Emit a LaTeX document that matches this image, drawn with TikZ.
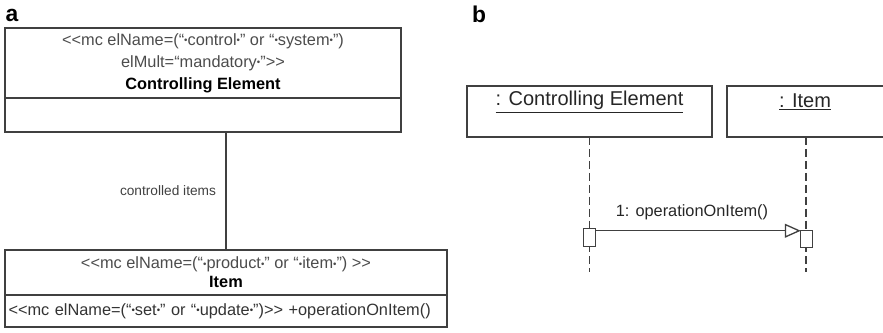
\documentclass[tikz,border=0pt]{standalone}
\usepackage{fontspec}
\setmainfont{Liberation Sans}
\usepackage{xcolor}
\usetikzlibrary{positioning,arrows.meta}
\newcommand{\bul}{{\fontsize{5.5}{5.5}\selectfont\raisebox{0.25ex}{•}}}

\begin{document}
\begin{tikzpicture}[x=0.02cm,y=-0.02cm,
      font=\fontsize{9.3}{12.5}\selectfont,
      cls/.style={draw=black!75,line width=0.75pt,outer sep=0pt,inner sep=0pt,align=center},
      obj/.style={draw=black!75,line width=0.75pt,outer sep=0pt,inner sep=0pt,minimum height=1.02cm},
      objname/.style={font=\fontsize{11.4}{13}\selectfont,text=black!85},
      life/.style={draw=black!75,line width=0.75pt,dash pattern=on 4.5pt off 2.3pt},
      act/.style={draw=black!75,fill=white,line width=0.75pt,minimum width=0.23cm,minimum height=0.35cm,inner sep=0pt,outer sep=0pt},
      msg/.style={-{Triangle[open,length=0.32cm,width=0.28cm]},draw=black!75,line width=0.75pt},
      assoc/.style={draw=black!75,line width=0.75pt},
      panel/.style={font=\fontsize{13}{13}\selectfont\bfseries}]
    \useasboundingbox (0,0) rectangle (883,332);
    \node[panel] (pa) at (12,15) {a};
    \node[panel] (pb) at (479,14) {b};
    % class diagram
    \node[cls,minimum width=7.92cm,minimum height=1.4cm] (ctrlhead) at (203,63)
      {\textcolor{black!70}{<{}<mc elName=(“\bul control\bul” or “\bul system\bul”)}\\
       \textcolor{black!70}{elMult=“mandatory\bul”>{}>}\\
       \textbf{Controlling Element}};
    \node[cls,minimum width=7.92cm,minimum height=0.68cm,below=0pt of ctrlhead] (ctrlbody) {};
    \node[cls,minimum width=8.84cm,minimum height=0.9cm,font=\fontsize{9.3}{10.8}\selectfont] (itemhead) at (226,272.5)
      {\textcolor{black!70}{<{}<mc elName=(“\bul product\bul” or “\bul item\bul”) >{}>}\\
       \textbf{Item}};
    \node[cls,text width=8.7cm,inner xsep=0.07cm,minimum height=0.64cm,align=left,below=0pt of itemhead] (itemops)
      {\textcolor{black!80}{<{}<mc elName=(“\bul set\bul” or “\bul update\bul”)>{}> +operationOnItem()}};
    \draw[assoc] (itemhead.north |- ctrlbody.south) -- (itemhead.north);
    \node[font=\fontsize{7.8}{9}\selectfont,text=black!75] (assoclbl) at (168,191) {controlled items};
    % sequence diagram
    \node[obj,minimum width=4.9cm] (ctrlobj) at (589.5,111.5) {};
    \node[obj,minimum width=3.2cm] (itemobj) at (807,111.5) {};
    \node[objname] (ctrlname) at (589.5,102) {\underline{: Controlling Element}};
    \node[objname] (itemname) at (805,102) {\underline{: Item}};
    \coordinate (ctrlend) at (589.5,272);
    \coordinate (itemend) at (806,272);
    \draw[life] (ctrlobj.south) -- (ctrlend);
    \draw[life] (itemobj.south -| itemend) -- (itemend);
    \node[act] (ctrlact) at (589.5,237.5) {};
    \node[act] (itemact) at (806.5,239) {};
    \draw[msg] ([yshift=-0.04cm]ctrlact.north east) -- ([yshift=-0.04cm]ctrlact.north east -| itemact.west);
    \node[text=black!85] (msglbl) at (692,212) {1: operationOnItem()};
\end{tikzpicture}
\end{document}
